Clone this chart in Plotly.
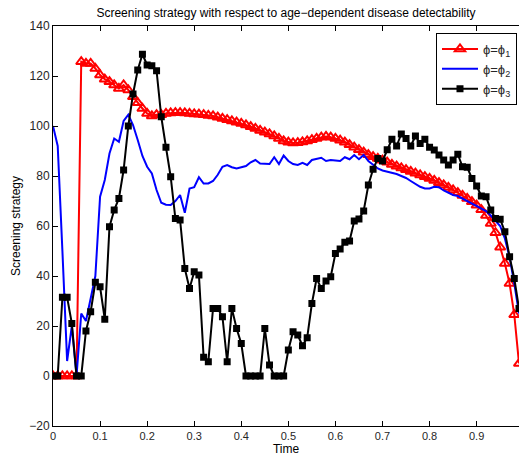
import plotly.graph_objects as go

time = [round(i * 0.01, 2) for i in range(100)]

phi1 = [0, 0, 0, 0, 0, 0, 125.7, 125, 125, 123,
        120.4, 118.7, 117.7, 116.4, 115, 116.4, 114.4, 111.7, 109.3, 107,
        105, 104, 104.5, 104.5, 105, 105.2, 105.3, 105.3, 105.2, 105,
        104.8, 104.7, 104.5, 104.2, 104, 103.5, 103, 102.5, 102, 101.5,
        101, 100.4, 99.7, 99, 98.2, 97.5, 96.8, 96, 95, 94,
        93.5, 93.2, 93.3, 93.6, 94, 94.5, 95, 95.5, 95.8, 95.5,
        95, 94.3, 93.5, 92.5, 91.5, 90.5, 89.5, 88.5, 87.7, 87,
        86.3, 85.5, 84.6, 83.9, 83.2, 82.5, 81.8, 81.1, 80.4, 79.7,
        79, 78.2, 77.3, 76.4, 75.4, 74.4, 73.3, 72.2, 71, 69.7,
        68.3, 66.5, 64.2, 61, 57.3, 51.5, 45, 37, 24.5, 5]

phi2 = [100, 92, 50, 6, 20, 0, 25, 22, 31, 40,
        71.7, 78.4, 89, 95, 93.7, 102, 104.5, 100.4, 94.4, 88,
        83.7, 81, 74.4, 69.3, 68.5, 68.4, 70, 72.4, 65.3, 75,
        75.5, 79.5, 77, 77, 78, 80.5, 83.7, 84.4, 83.5, 83,
        83.5, 84, 85.5, 86.4, 85, 84.8, 84.8, 87.5, 84.8, 88.2,
        86, 84.8, 84.4, 85.3, 84.4, 86.4, 87, 87.3, 86, 86.4,
        86.2, 86, 87.5, 86.7, 88.4, 86.7, 88.4, 86, 84.5, 83,
        82.2, 81.8, 81.2, 80.8, 80, 79.2, 78, 76.8, 75.7, 75,
        75, 75.7, 75.5, 74.2, 73.2, 72.4, 72, 71, 70, 69.3,
        68, 67, 66, 64.2, 62, 60, 55, 47.5, 37, 25]

phi3 = [0, 0, 31.5, 31.5, 21, 0, 0, 18, 25.7, 37.5,
        35.7, 22.7, 59.7, 66.4, 71, 82.4, 100, 112.8, 122.4, 128.7,
        124.4, 124.1, 122.1, 103.7, 91.5, 79.7, 63, 62.4, 43, 35,
        41.7, 40.4, 7.5, 5.7, 27, 27, 23.7, 5.7, 27, 19,
        13, 0, 0, 0, 0, 19, 4.4, 0, 0, 0,
        10.4, 17.7, 16.4, 12.1, 15.3, 29, 39, 35, 38, 39.7,
        49, 50.8, 53.5, 54, 62, 62.8, 66, 76.4, 82.7, 87,
        86, 90.5, 94.7, 92, 96.8, 95, 92, 96, 93, 94.7,
        91.5, 90.4, 88.4, 86.4, 84.4, 86.4, 88.7, 83.7, 83.5, 79,
        76, 72, 71.7, 66.4, 63, 62.7, 57.7, 47.7, 39, 27]

x_ticks = [0, 0.1, 0.2, 0.3, 0.4, 0.5, 0.6, 0.7, 0.8, 0.9]
x_ticklabels = ["0", "0.1", "0.2", "0.3", "0.4", "0.5", "0.6", "0.7", "0.8", "0.9"]
y_ticks = [-20, 0, 20, 40, 60, 80, 100, 120, 140]

FONT = "Liberation Sans, Arial, sans-serif"

fig = go.Figure()
fig.add_trace(go.Scatter(
    x=time, y=phi1, mode="lines+markers", name="ϕ=ϕ<sub>1</sub>",
    line=dict(color="#ff0000", width=2),
    marker=dict(symbol="triangle-up-open", size=9, color="#ff0000",
                line=dict(width=2, color="#ff0000")),
))
fig.add_trace(go.Scatter(
    x=time, y=phi2, mode="lines", name="ϕ=ϕ<sub>2</sub>",
    line=dict(color="#0000ff", width=2),
))
fig.add_trace(go.Scatter(
    x=time, y=phi3, mode="lines+markers", name="ϕ=ϕ<sub>3</sub>",
    line=dict(color="#000000", width=2),
    marker=dict(symbol="square", size=7, color="#000000"),
))

fig.update_layout(
    width=519, height=458,
    margin=dict(l=53, r=0, t=26, b=32),
    paper_bgcolor="white", plot_bgcolor="white",
    font=dict(family=FONT, size=11, color="#262626"),
    title=dict(text="Screening strategy with respect to age−dependent disease detectability",
               x=0.5, xref="paper", xanchor="center", y=1 - 13 / 458, yanchor="middle",
               font=dict(family=FONT, size=12, color="#000000")),
    showlegend=True,
    legend=dict(x=0.9957, y=0.9825, xanchor="right", yanchor="top",
                bgcolor="white", bordercolor="black", borderwidth=1,
                font=dict(family=FONT, size=13, color="#262626"),
                itemwidth=36, tracegroupgap=0),
    xaxis=dict(range=[0, 0.99], tickvals=x_ticks, ticktext=x_ticklabels,
               ticks="inside", ticklen=5, tickcolor="black", showgrid=False,
               zeroline=False, showline=True, linecolor="black", linewidth=1,
               mirror="ticks", tickfont=dict(size=11, color="#262626"),
               title=dict(text="Time", standoff=2, font=dict(size=12, color="#000000"))),
    yaxis=dict(range=[-20, 140], tickvals=y_ticks,
               ticks="inside", ticklen=5, tickcolor="black", showgrid=False,
               zeroline=False, showline=True, linecolor="black", linewidth=1,
               tickfont=dict(size=12, color="#262626"),
               title=dict(text="Screening strategy", standoff=6, font=dict(size=12, color="#000000"))),
)

fig.write_html("out.html")
